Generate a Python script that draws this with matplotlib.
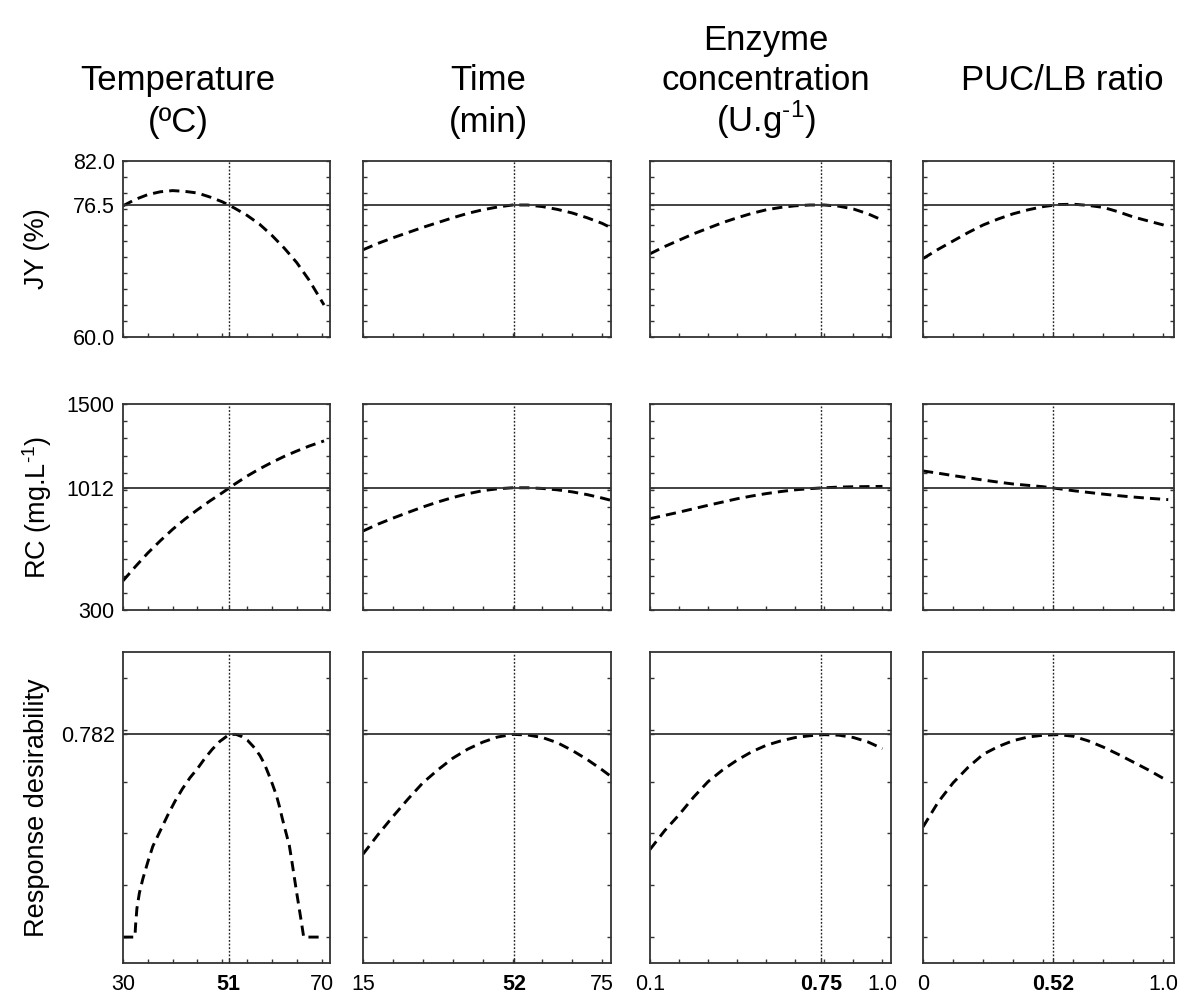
import matplotlib
matplotlib.use("Agg")
import matplotlib.pyplot as plt
from matplotlib.ticker import FixedLocator

plt.rcParams["font.family"] = ["Liberation Sans", "DejaVu Sans"]
plt.rcParams["mathtext.fontset"] = "custom"
plt.rcParams["mathtext.rm"] = "Liberation Sans"

# --- values -------------------------------------------------------------
temp_x = [30, 32.5, 35, 37.5, 40, 42.5, 45, 47.5, 50, 52.5, 55, 57.5, 60,
          62.5, 65, 67.5, 70.5]
jy_temp = [76.4, 77.2, 77.8, 78.15, 78.3, 78.2, 78.0, 77.5, 76.9, 76.1, 75.2,
           74.1, 72.7, 71.1, 69.3, 67.1, 64.0]
rc_temp = [470, 553, 632, 703, 770, 830, 884, 935, 983, 1033, 1080, 1122,
           1160, 1195, 1226, 1255, 1285]
d_temp_x = [30, 32.4, 32.55, 32.8, 33.3, 34, 35, 36, 37.5, 39, 40.5, 42, 43.5,
            45, 46.5, 48, 49.5, 51.4, 52.8, 54, 55.1, 56.5, 57.6, 58.5, 59.3,
            60.1, 60.9, 61.5, 62.1, 62.8, 63.5, 64, 64.5, 65, 65.5, 66, 66.4,
            70.5]
d_temp = [0, 0, 0.05, 0.11, 0.17, 0.225, 0.29, 0.35, 0.41, 0.47, 0.525, 0.573,
          0.615, 0.65, 0.69, 0.725, 0.755, 0.782, 0.782, 0.773, 0.759, 0.73,
          0.70, 0.668, 0.63, 0.59, 0.547, 0.505, 0.457, 0.405, 0.354, 0.295,
          0.232, 0.17, 0.11, 0.05, 0, 0]

time_x = [15, 18.75, 22.5, 26.25, 30, 33.75, 37.5, 41.25, 45, 48.75, 52.5,
          56.25, 60, 63.75, 67.5, 71.25, 75, 77]
jy_time = [70.9, 71.7, 72.4, 73.05, 73.7, 74.3, 74.9, 75.45, 75.9, 76.25,
           76.5, 76.5, 76.3, 75.95, 75.5, 74.9, 74.2, 73.7]
rc_time = [760, 800, 835, 868, 900, 929, 955, 977, 995, 1006, 1012, 1012,
           1008, 1000, 988, 972, 952, 940]
d_time = [0.32, 0.395, 0.465, 0.532, 0.595, 0.645, 0.69, 0.725, 0.752, 0.772,
          0.782, 0.78, 0.77, 0.75, 0.72, 0.685, 0.645, 0.622]

enz_x = [0.1, 0.15625, 0.2125, 0.26875, 0.325, 0.38125, 0.4375, 0.49375,
         0.55, 0.60625, 0.6625, 0.71875, 0.775, 0.83125, 0.8875, 0.94375, 1.0]
jy_enz = [70.4, 71.3, 72.1, 72.9, 73.6, 74.3, 74.9, 75.45, 75.9, 76.2, 76.4,
          76.5, 76.5, 76.35, 76.0, 75.4, 74.6]
rc_enz = [832, 851, 870, 890, 910, 929, 948, 964, 978, 990, 1000, 1007, 1012,
          1016, 1018, 1019, 1020]
d_enz = [0.338, 0.41, 0.472, 0.54, 0.60, 0.645, 0.683, 0.715, 0.74, 0.757,
         0.77, 0.777, 0.781, 0.779, 0.77, 0.753, 0.727]

ratio_x = [0, 0.0625, 0.125, 0.1875, 0.25, 0.3125, 0.375, 0.4375, 0.5, 0.5625,
           0.625, 0.6875, 0.75, 0.8125, 0.875, 0.9375, 1.0, 1.02]
jy_ratio = [69.8, 70.95, 72.0, 73.05, 74.0, 74.75, 75.4, 75.9, 76.3, 76.55,
            76.6, 76.45, 76.2, 75.65, 75.0, 74.5, 74.0, 73.8]
rc_ratio = [1110, 1097, 1083, 1070, 1057, 1045, 1034, 1026, 1018, 1007, 995,
            985, 975, 966, 958, 951, 945, 943]
d_ratio = [0.425, 0.52, 0.595, 0.655, 0.705, 0.735, 0.758, 0.772, 0.779, 0.781,
           0.775, 0.757, 0.733, 0.705, 0.675, 0.645, 0.612, 0.605]

titles = [["Temperature", "(ºC)"],
          ["Time", "(min)"],
          ["Enzyme", "concentration", r"(U.g$^{\mathregular{\text{-}1}}$)"],
          ["PUC/LB ratio"]]
ylabels = ["JY (%)", r"RC (mg.L$^{\mathregular{\text{-}1}}$)",
           "Response desirability"]

opt_x = [51.3, 52.9, 0.763, 0.54]          # position of the dotted line
opt_labels = ["51", "52", "0.75", "0.52"]
x_ends = [(30, 70), (15, 75), (0.1, 1.0), (0, 1.0)]
x_end_labels = [("30", "70"), ("15", "75"), ("0.1", "1.0"), ("0", "1.0")]
x_step = [5, 7.5, 0.1125, 0.125]
x_right = [71.7, 77.2, 1.033, 1.044]

ref_y = [76.5, 1012, 0.782]
y_labels = [[60, 76.5, 82], [300, 1012, 1500], [0.782]]
y_label_txt = [["60.0", "76.5", "82.0"], ["300", "1012", "1500"], ["0.782"]]
y_lim = [(60, 82), (300, 1500), (-0.1, 1.1)]
y_minor = [[60 + 2 * i for i in range(12)],
           [300 + 100 * i for i in range(13)],
           [0.2 * i for i in range(6)]]

curves = [[(temp_x, jy_temp), (time_x, jy_time), (enz_x, jy_enz), (ratio_x, jy_ratio)],
          [(temp_x, rc_temp), (time_x, rc_time), (enz_x, rc_enz), (ratio_x, rc_ratio)],
          [(d_temp_x, d_temp), (time_x, d_time), (enz_x, d_enz), (ratio_x, d_ratio)]]

# --- layout (pixel boxes) -----------------------------------------------
W, H = 1186, 999
COLS = [(123, 330), (363, 611), (650, 891), (923, 1174)]
ROWS = [(161, 337), (404, 610), (652, 963)]
TITLE_X = [178, 488, 766, 1062]
TITLE_BASE = [[90, 132], [90, 132], [50, 90, 132], [90]]
EDGE = "#333333"

fig = plt.figure(figsize=(W / 100, H / 100), dpi=100)

for r in range(3):
    for c in range(4):
        x0, x1 = COLS[c]
        y0, y1 = ROWS[r]
        ax = fig.add_axes([x0 / W, 1 - y1 / H, (x1 - x0) / W, (y1 - y0) / H])
        xs, ys = curves[r][c]
        ax.plot(xs, ys, color="black", lw=2.1, ls=(0, (3.5, 2.1)),
                dash_capstyle="butt", dash_joinstyle="round")
        ax.axhline(ref_y[r], color=EDGE, lw=1.3)
        ax.axvline(opt_x[c], color="#222222", lw=1.0, ls=(0, (1.3, 1.3)))
        ax.set_xlim(x_ends[c][0], x_right[c])
        ax.set_ylim(*y_lim[r])

        lo, hi = x_ends[c]
        n = int(round((hi - lo) / x_step[c]))
        ax.xaxis.set_minor_locator(FixedLocator([lo + i * x_step[c] for i in range(n + 1)]))
        ax.set_xticks([lo, opt_x[c], hi])
        ax.yaxis.set_minor_locator(FixedLocator(y_minor[r]))
        ax.set_yticks(y_labels[r])

        ax.tick_params(which="both", direction="in", length=3, width=1,
                       color=EDGE, right=True, top=False, labelsize=15.5)
        ax.tick_params(axis="x", pad=8)
        ax.tick_params(axis="y", pad=6)

        if r == 2:
            ax.set_xticklabels([x_end_labels[c][0], opt_labels[c], x_end_labels[c][1]])
            ax.get_xticklabels()[1].set_fontweight("bold")
        else:
            ax.tick_params(axis="x", labelbottom=False)
        if c == 0:
            ax.set_yticklabels(y_label_txt[r])
        else:
            ax.tick_params(axis="y", labelleft=False)

        for s in ax.spines.values():
            s.set_color(EDGE)
            s.set_linewidth(1.3)

for c in range(4):
    for line, yb in zip(titles[c], TITLE_BASE[c]):
        fig.text(TITLE_X[c] / W, 1 - yb / H, line, fontsize=25,
                 ha="center", va="baseline")

for r in range(3):
    yc = (ROWS[r][0] + ROWS[r][1]) / 2
    fig.text(37 / W, 1 - yc / H, ylabels[r], fontsize=19.5, rotation=90,
             ha="center", va="center")

fig.savefig("out.png", dpi=100, facecolor="white")
